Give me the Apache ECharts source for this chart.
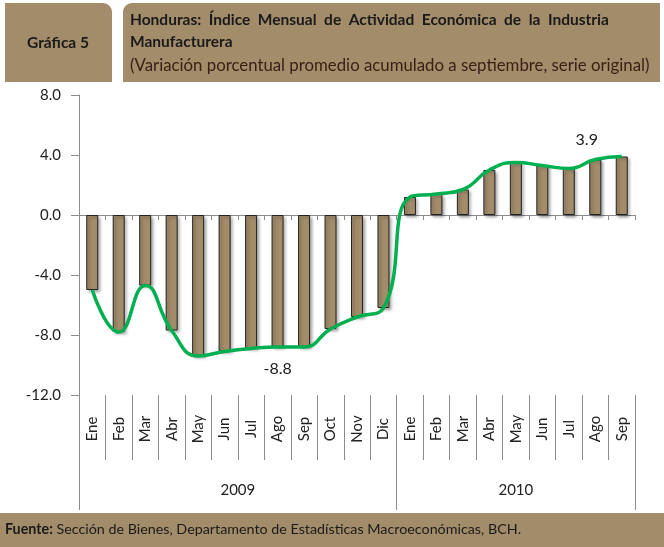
<!DOCTYPE html>
<html>
<head>
<meta charset="utf-8">
<script src="https://cdn.jsdelivr.net/npm/echarts@6/dist/echarts.min.js"></script>
<style>
  html, body { margin: 0; padding: 0; background: #fff; }
  #main { width: 664px; height: 547px; }
</style>
</head>
<body>
<div id="main"></div>
<script>
// data
const months = ['Ene', 'Feb', 'Mar', 'Abr', 'May', 'Jun', 'Jul', 'Ago', 'Sep', 'Oct', 'Nov', 'Dic',
  'Ene', 'Feb', 'Mar', 'Abr', 'May', 'Jun', 'Jul', 'Ago', 'Sep'];
const years = ['2009', '2010'];
const monthsPerYear = [12, 9];
const values = [-5.0, -7.8, -4.7, -7.7, -9.4, -9.1, -8.9, -8.8, -8.8, -7.6, -6.8, -6.2,
  1.2, 1.4, 1.7, 3.0, 3.5, 3.3, 3.1, 3.7, 3.9];
const labelled = [7, 20]; // points with a data label
const yMin = -12;
const yMax = 8;
const yStep = 4;

const brown = '#A28C6A';
const font = 'Lato';

// first index of each year and the index where its label sits
const yearStart = [];
const yearLabelAt = {};
let acc = 0;
monthsPerYear.forEach((n, i) => {
  yearStart.push(acc);
  yearLabelAt[acc + Math.floor((n - 1) / 2)] = { name: years[i], even: n % 2 === 0 };
  acc += n;
});

const myChart = echarts.init(document.getElementById('main'));

const barData = values.map((v, i) => {
  if (!labelled.includes(i)) return v;
  return {
    value: v,
    label: {
      show: true,
      position: v < 0 ? 'bottom' : 'top',
      distance: v < 0 ? 14 : 9,
      offset: v < 0 ? [0, 0] : [-35, 0],
      formatter: (p) => p.value.toFixed(1),
      fontFamily: font,
      fontSize: 16,
      color: '#222',
    },
  };
});

const option = {
  animation: false,
  backgroundColor: '#fff',
  graphic: [
    {
      type: 'rect',
      shape: { x: 5, y: 3, width: 107, height: 79, r: [0, 9, 0, 0] },
      style: { fill: brown },
    },
    {
      type: 'text',
      x: 58, y: 43,
      style: {
        text: 'Gráfica 5', font: 'bold 15.5px ' + font, fill: '#1a1a1a',
        textAlign: 'center', textVerticalAlign: 'middle',
      },
    },
    {
      type: 'rect',
      shape: { x: 123, y: 3, width: 537, height: 79, r: [9, 0, 0, 0] },
      style: { fill: brown },
    },
    {
      type: 'text',
      x: 130, y: 20,
      style: {
        text: 'Honduras:  Índice  Mensual  de  Actividad  Económica  de  la  Industria',
        font: 'bold 15.5px ' + font, fill: '#1a1a1a', textVerticalAlign: 'middle',
      },
    },
    {
      type: 'text',
      x: 130, y: 42,
      style: {
        text: 'Manufacturera', font: 'bold 15.5px ' + font, fill: '#1a1a1a', textVerticalAlign: 'middle',
      },
    },
    {
      type: 'text',
      x: 130, y: 66,
      style: {
        text: '(Variación porcentual promedio acumulado a septiembre, serie original)',
        font: '16.8px ' + font, fill: '#3a1e14', textVerticalAlign: 'middle',
      },
    },
    {
      type: 'rect',
      shape: { x: 0, y: 513, width: 664, height: 34 },
      style: { fill: brown },
    },
    {
      type: 'text',
      x: 5, y: 529,
      style: {
        text: '{b|Fuente:} Sección de Bienes, Departamento de Estadísticas Macroeconómicas, BCH.',
        font: '14.3px ' + font, fill: '#1a1a1a', textVerticalAlign: 'middle',
        rich: { b: { fontWeight: 'bold', fontSize: 14.3, fontFamily: font } },
      },
    },
  ],
  grid: { left: 79, right: 29, top: 95, bottom: 152 },
  xAxis: [
    {
      // axis along zero
      type: 'category',
      data: months,
      axisLine: { onZero: true, lineStyle: { color: '#8c8c8c' } },
      axisTick: { show: true, interval: 0, length: 5, lineStyle: { color: '#8c8c8c' } },
      axisLabel: { show: false },
    },
    {
      // month labels at the bottom
      type: 'category',
      data: months,
      position: 'bottom',
      axisLine: { show: false, onZero: false },
      axisTick: { show: true, interval: 0, length: 65, lineStyle: { color: '#8c8c8c' } },
      axisLabel: {
        interval: 0, rotate: 90, align: 'center', verticalAlign: 'middle', margin: 34,
        fontFamily: font, fontSize: 15, color: '#222',
      },
    },
    {
      // year groups
      type: 'category',
      data: months,
      position: 'bottom',
      axisLine: { show: false, onZero: false },
      axisTick: {
        show: true, length: 115, lineStyle: { color: '#8c8c8c' },
        interval: (i) => yearStart.includes(i),
      },
      axisLabel: {
        interval: (i) => yearLabelAt[i] !== undefined,
        formatter: (v, i) => {
          const y = yearLabelAt[i];
          return y.even ? '{s|' + y.name + '}' : y.name;
        },
        rich: { s: { padding: [0, 0, 0, 26.5], fontFamily: font, fontSize: 15, color: '#222' } },
        verticalAlign: 'middle', margin: 95,
        fontFamily: font, fontSize: 15, color: '#222',
      },
    },
  ],
  yAxis: {
    type: 'value',
    min: yMin,
    max: yMax,
    interval: yStep,
    splitLine: { show: false },
    axisLine: { show: true, lineStyle: { color: '#8c8c8c' } },
    axisTick: { show: true, length: 8, lineStyle: { color: '#8c8c8c' } },
    axisLabel: {
      margin: 18, formatter: (v) => v.toFixed(1),
      fontFamily: font, fontSize: 15, color: '#222',
    },
  },
  series: [
    {
      type: 'bar',
      data: barData,
      barWidth: 12,
      itemStyle: {
        color: brown,
        borderColor: '#222',
        borderWidth: 1,
        shadowColor: 'rgba(0,0,0,0.35)',
        shadowBlur: 3,
        shadowOffsetX: 2,
        shadowOffsetY: 2,
      },
    },
    {
      type: 'line',
      data: values,
      smooth: 0.5,
      symbol: 'none',
      lineStyle: { color: '#00B050', width: 3.5 },
      z: 3,
    },
  ],
};

myChart.setOption(option);
</script>
</body>
</html>
